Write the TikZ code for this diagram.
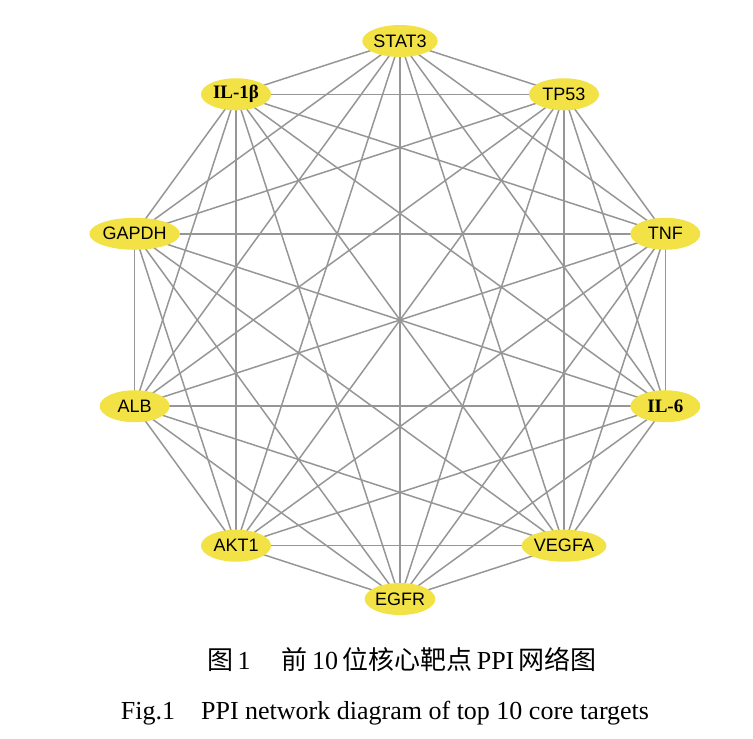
\documentclass[tikz,border=0pt]{standalone}
\usepackage{fontspec}
\setmainfont{Liberation Serif}
\setsansfont{Liberation Sans}
\newfontfamily\cjk{Noto Sans CJK SC}
\usetikzlibrary{shapes.geometric,backgrounds}
\definecolor{nodeyellow}{RGB}{242,226,70}
\definecolor{edgegray}{RGB}{150,150,150}
\tikzset{
  gene/.style={ellipse, fill=nodeyellow, draw=none, minimum width=70pt, minimum height=32pt, inner sep=0pt, font=\sffamily\fontsize{18}{18}\selectfont},
  geneserif/.style={gene, font=\rmfamily\bfseries\fontsize{19}{19}\selectfont},
  edge/.style={draw=edgegray, line width=1.5pt},
  caption/.style={font=\fontsize{26}{26}\selectfont, anchor=base}
}
\begin{document}
\begin{tikzpicture}[x=1pt,y=-1pt]
\useasboundingbox (0,0) rectangle (753,739);
\def\cx{400}\def\cy{320}\def\R{279}
\node[gene] (n1) at ({\cx+\R*cos(90)},{\cy-\R*sin(90)}) {STAT3};
\node[gene] (n2) at ({\cx+\R*cos(54)},{\cy-\R*sin(54)}) {TP53};
\node[gene] (n3) at ({\cx+\R*cos(18)},{\cy-\R*sin(18)}) {TNF};
\node[geneserif] (n4) at ({\cx+\R*cos(-18)},{\cy-\R*sin(-18)}) {IL-6};
\node[gene] (n5) at ({\cx+\R*cos(-54)},{\cy-\R*sin(-54)}) {VEGFA};
\node[gene] (n6) at ({\cx+\R*cos(-90)},{\cy-\R*sin(-90)}) {EGFR};
\node[gene] (n7) at ({\cx+\R*cos(-126)},{\cy-\R*sin(-126)}) {AKT1};
\node[gene] (n8) at ({\cx+\R*cos(-162)},{\cy-\R*sin(-162)}) {ALB};
\node[gene] (n9) at ({\cx+\R*cos(162)},{\cy-\R*sin(162)}) {GAPDH};
\node[geneserif] (n10) at ({\cx+\R*cos(126)},{\cy-\R*sin(126)}) {IL-1β};
\begin{pgfonlayer}{background}
\foreach \i in {1,...,9}{
  \pgfmathtruncatemacro\s{\i+1}
  \foreach \j in {\s,...,10}{
    \draw[edge] (n\i.center) -- (n\j.center);
  }
}
\end{pgfonlayer}
\node[caption] (cap1) at (402,669) {{\cjk 图}\,1\hspace{1.2em}{\cjk 前}\,10\,{\cjk 位核心靶点}\,PPI\,{\cjk 网络图}};
\node[caption] (cap2) at (385,719) {Fig.1\hspace{1em}PPI network diagram of top 10 core targets};
\end{tikzpicture}
\end{document}
